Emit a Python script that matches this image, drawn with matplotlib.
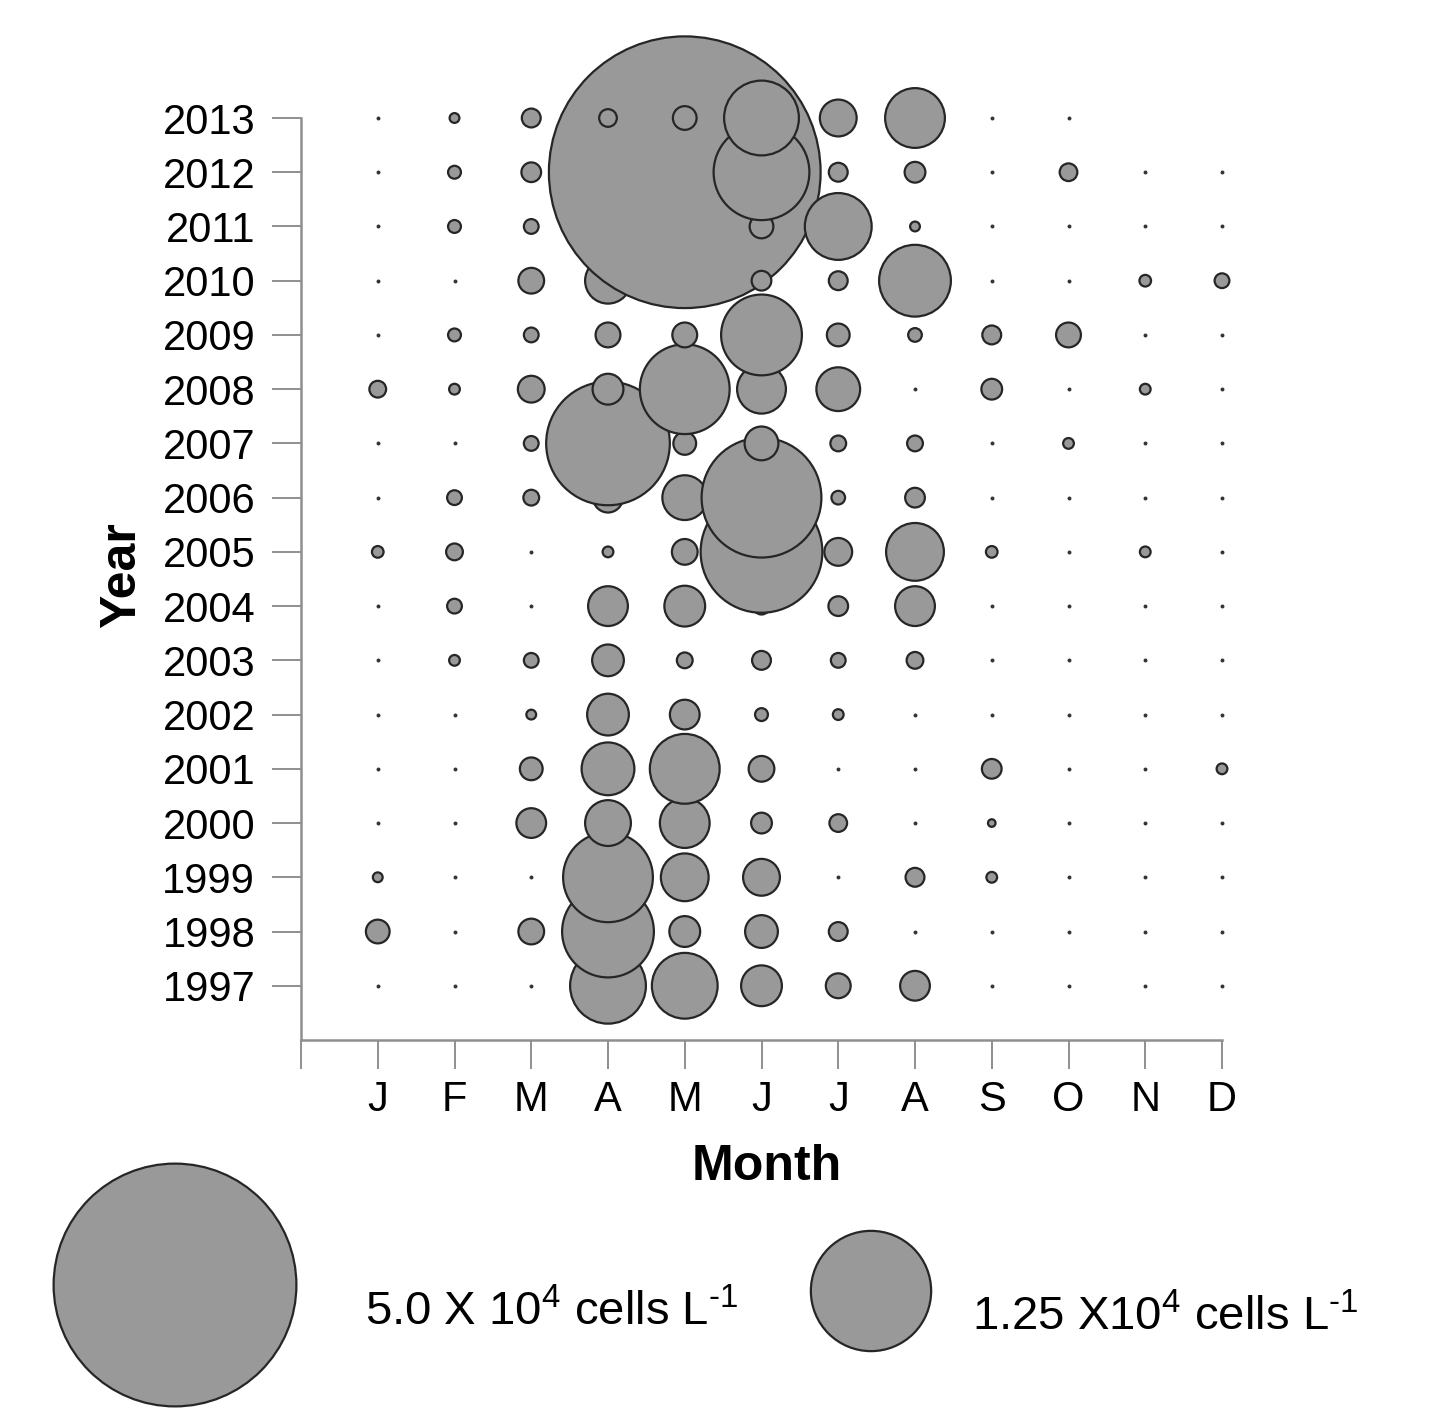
"""Monthly cell densities 1997-2013 as a bubble chart (area ~ cells per litre)."""

import numpy as np
import matplotlib.pyplot as plt

plt.rcParams.update({
    "font.family": ["Liberation Sans", "DejaVu Sans"],
    "mathtext.fontset": "custom",
    "mathtext.rm": "Liberation Sans",
})

# ---------------------------------------------------------------------------
# Data: cells L-1, one list per year, months J..D (nan = not sampled)
# ---------------------------------------------------------------------------
months = ["J", "F", "M", "A", "M", "J", "J", "A", "S", "O", "N", "D"]
years = list(range(1997, 2014))

nan = np.nan
y1997 = [0, 0, 0, 5070, 3850, 1540, 610, 850, 0, 0, 0, 0]
y1998 = [560, 0, 650, 7360, 910, 1020, 370, 0, 0, 0, 0, 0]
y1999 = [120, 0, 0, 7050, 2080, 1270, 0, 370, 140, 0, 0, 0]
y2000 = [0, 0, 850, 1920, 2250, 440, 330, 0, 80, 0, 0, 0]
y2001 = [0, 0, 520, 2520, 4320, 650, 0, 0, 400, 0, 0, 140]
y2002 = [0, 0, 120, 1610, 850, 190, 140, 0, 0, 0, 0, 0]
y2003 = [0, 140, 240, 960, 270, 370, 240, 300, 0, 0, 0, 0]
y2004 = [0, 240, 0, 1470, 1540, 300, 400, 1470, 0, 0, 0, 0]
y2005 = [160, 300, 0, 140, 650, 12800, 750, 3000, 160, 0, 140, 0]
y2006 = [0, 240, 270, 850, 1840, 12400, 210, 400, 0, 0, 0, 0]
y2007 = [0, 0, 240, 13200, 520, 1080, 270, 270, 0, 140, 0, 0]
y2008 = [300, 140, 700, 910, 7050, 2170, 1760, 0, 440, 0, 140, 0]
y2009 = [0, 190, 240, 610, 610, 5740, 520, 210, 370, 610, 0, 0]
y2010 = [0, 0, 650, 1920, 0, 400, 370, 4560, 0, 0, 160, 240]
y2011 = [0, 190, 240, 0, 0, 560, 3970, 120, 0, 0, 0, 0]
y2012 = [0, 190, 400, 0, 62500, 8000, 370, 440, 0, 330, 0, 0]
y2013 = [0, 120, 370, 330, 560, 4940, 1270, 3200, 0, 0, nan, nan]

legend_values = [5.0e4, 1.25e4]
HY = "\u2010"  # plain hyphen, mathtext would turn "-" into a minus sign
legend_labels = [r"5.0 X 10$^{\mathregular{4}}$ cells L$^{\mathregular{" + HY + "1}}$",
                 r"1.25 X10$^{\mathregular{4}}$ cells L$^{\mathregular{" + HY + "1}}$"]

counts = np.array([y1997, y1998, y1999, y2000, y2001, y2002, y2003, y2004,
                   y2005, y2006, y2007, y2008, y2009, y2010, y2011, y2012,
                   y2013], dtype=float)

# ---------------------------------------------------------------------------
# Styling
# ---------------------------------------------------------------------------
W, H, DPI = 1430, 1409, 100
FILL = "#999999"
EDGE = "#262626"
EDGE_LW = 1.6
AXIS_GREY = "#8f8f8f"
REF_VALUE, REF_DIAM_PX = 5.0e4, 245   # legend circle: 5e4 cells -> 245 px


def marker_area(v):
    """scatter size (pt^2) so that bubble area scales with the value."""
    d_pt = REF_DIAM_PX * np.sqrt(np.asarray(v) / REF_VALUE) * 72 / DPI
    return np.clip(d_pt - EDGE_LW, 0.5, None) ** 2


fig = plt.figure(figsize=(W / DPI, H / DPI), dpi=DPI)
ax = fig.add_axes([301 / W, 369 / H, 921 / W, 922 / H])

# draw month by month, years ascending (later years on top); the last
# year is drawn over everything else
mm, yy = np.meshgrid(np.arange(1, 13), years)
xs, ys, vs = mm.ravel(), yy.ravel(), counts.ravel()
order = np.lexsort((ys, xs, ys == years[-1]))
xs, ys, vs = xs[order], ys[order], vs[order]

zero = vs == 0
ax.scatter(xs[zero], ys[zero], s=8, color="#333333", lw=0, zorder=2,
           clip_on=False)
pos = vs > 0
ax.scatter(xs[pos], ys[pos], s=marker_area(vs[pos]), facecolor=FILL,
           edgecolor=EDGE, linewidth=EDGE_LW, zorder=3, clip_on=False)

ax.set_xlim(0, 12)
ax.set_ylim(1996, 2013)
for side in ("top", "right"):
    ax.spines[side].set_visible(False)
for side in ("left", "bottom"):
    ax.spines[side].set_color(AXIS_GREY)
    ax.spines[side].set_linewidth(1.8)

ax.set_xticks(range(0, 13))
ax.set_xticklabels([""] + months)
ax.set_yticks(years)
ax.set_yticklabels([str(y) for y in years])
ax.tick_params(axis="both", direction="out", length=21, width=1.4,
               color=AXIS_GREY, labelsize=30)
ax.tick_params(axis="y", pad=12)
ax.tick_params(axis="x", pad=8)

fig.text(122 / W, 1 - 575 / H, "Year", rotation=90, ha="center",
         va="center", fontsize=36, fontweight="bold")
fig.text(767 / W, 1 - 1167 / H, "Month", ha="center", va="center",
         fontsize=36, fontweight="bold")

# ---------------------------------------------------------------------------
# Size legend (pixel coordinates)
# ---------------------------------------------------------------------------
lax = fig.add_axes([0, 0, 1, 1])
lax.set_xlim(0, W)
lax.set_ylim(H, 0)
lax.axis("off")
lax.scatter([175, 871], [1285, 1291], s=marker_area(legend_values),
            facecolor=FILL, edgecolor=EDGE, linewidth=EDGE_LW, clip_on=False)
lax.text(365, 1325, legend_labels[0], fontsize=34, va="baseline")
lax.text(972, 1330, legend_labels[1], fontsize=34, va="baseline")

fig.savefig("out.png", dpi=DPI, facecolor="white")
